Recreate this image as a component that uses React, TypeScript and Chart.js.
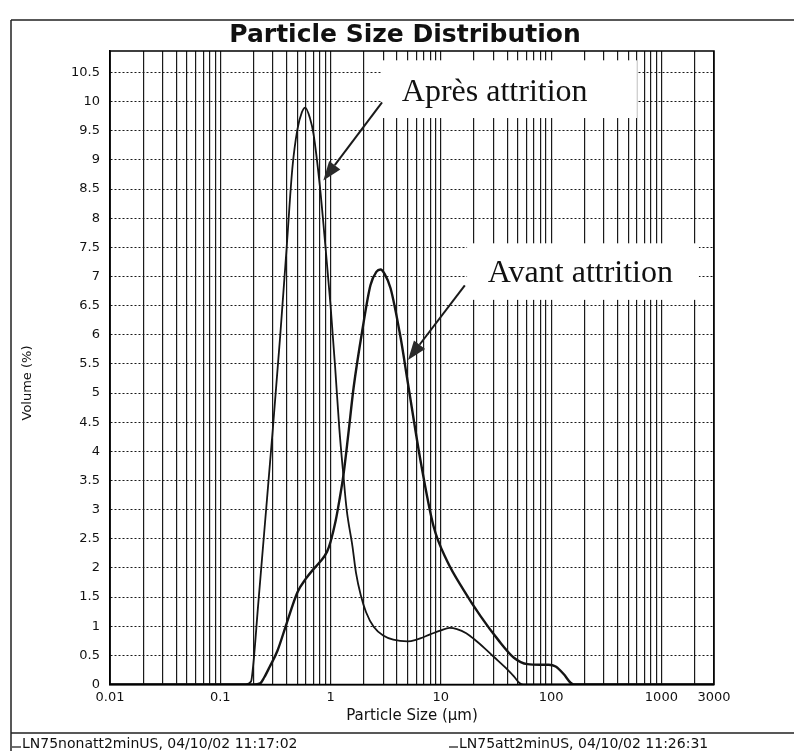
import React, { useEffect, useRef } from 'react';
import { Chart, registerables } from 'chart.js';

Chart.register(...registerables);

// ---------- text ----------
const chartTitle = 'Particle Size Distribution';
const xAxisTitle = 'Particle Size (µm)';
const yAxisTitle = 'Volume (%)';
const legendNames = ['LN75nonatt2minUS, 04/10/02 11:17:02', 'LN75att2minUS, 04/10/02 11:26:31'];

// ---------- axis ticks ----------
const xGridValues = [
  0.01, 0.02, 0.03, 0.04, 0.05, 0.06, 0.07, 0.08, 0.09,
  0.1, 0.2, 0.3, 0.4, 0.5, 0.6, 0.7, 0.8, 0.9,
  1, 2, 3, 4, 5, 6, 7, 8, 9,
  10, 20, 30, 40, 50, 60, 70, 80, 90,
  100, 200, 300, 400, 500, 600, 700, 800, 900,
  1000, 2000, 3000,
];
const xLabelledValues = [0.01, 0.1, 1, 10, 100, 1000, 3000];
const yStep = 0.5;

// ---------- series: Avant attrition (LN75nonatt2minUS) ----------
const avantSizes = [0.01, 0.2, 0.23, 0.25, 0.28, 0.33, 0.4, 0.5, 0.6, 0.7, 0.8, 0.93, 1.0, 1.11, 1.2, 1.31, 1.45, 1.62, 1.95, 2.3, 2.6, 2.84, 3.1, 3.5, 4.3, 5.0, 6.6, 8.6, 11.4, 16, 23, 33, 46, 61, 80, 95, 110, 130, 150, 160, 3000];
const avantVolume = [0, 0, 0.02, 0.12, 0.3, 0.58, 1.05, 1.58, 1.82, 1.98, 2.1, 2.28, 2.45, 2.8, 3.15, 3.6, 4.3, 5.1, 6.1, 6.85, 7.08, 7.12, 7.04, 6.8, 5.97, 5.2, 3.8, 2.71, 2.12, 1.63, 1.17, 0.77, 0.46, 0.35, 0.34, 0.34, 0.31, 0.18, 0.03, 0, 0];

// ---------- series: Après attrition (LN75att2minUS) ----------
const apresSizes = [0.01, 0.17, 0.19, 0.2, 0.22, 0.25, 0.3, 0.35, 0.4, 0.45, 0.5, 0.55, 0.59, 0.65, 0.7, 0.8, 0.9, 1.0, 1.1, 1.2, 1.31, 1.4, 1.58, 1.7, 1.88, 2.1, 2.46, 3, 3.7, 5, 6, 8, 10, 12, 14, 17, 20, 25, 30, 40, 46, 52, 56, 3000];
const apresVolume = [0, 0, 0.05, 0.38, 1.34, 2.6, 4.4, 6.0, 7.5, 8.85, 9.52, 9.82, 9.9, 9.72, 9.45, 8.55, 7.5, 6.5, 5.45, 4.4, 3.57, 3.0, 2.37, 1.92, 1.53, 1.24, 0.99, 0.84, 0.77, 0.74, 0.77, 0.86, 0.93, 0.97, 0.95, 0.88, 0.78, 0.62, 0.48, 0.26, 0.14, 0.02, 0, 0];

// ---------- annotations (data coordinates) ----------
const annotations = [
  { text: 'Après attrition', x0: 2.93, x1: 600, yTop: 10.71, yBottom: 9.72, textX: 4.43, textY: 10.01, from: [2.93, 9.99], to: [0.86, 8.65] },
  { text: 'Avant attrition', x0: 17.3, x1: 2188, yTop: 7.57, yBottom: 6.6, textX: 26.7, textY: 6.9, from: [16.5, 6.85], to: [5.04, 5.57] },
];

const SANS = '"DejaVu Sans", "Liberation Sans", sans-serif';
const SERIF = '"Liberation Serif", "Times New Roman", serif';

const scanPlugin = {
  id: 'scanPlugin',
  beforeDraw(chart: any) {
    const { ctx, width, height } = chart;
    ctx.save();
    ctx.fillStyle = '#ffffff';
    ctx.fillRect(0, 0, width, height);
    ctx.restore();
  },
  afterDatasetsDraw(chart: any) {
    const { ctx, chartArea: a, scales } = chart;
    const xs = scales.x;
    const ys = scales.y;
    ctx.save();
    for (const an of annotations) {
      const l = xs.getPixelForValue(an.x0);
      const r = xs.getPixelForValue(an.x1);
      const t = ys.getPixelForValue(an.yTop);
      const b = ys.getPixelForValue(an.yBottom);
      ctx.fillStyle = '#ffffff';
      ctx.fillRect(l, t, r - l, b - t);
      ctx.fillStyle = '#111111';
      ctx.font = '32px ' + SERIF;
      ctx.textAlign = 'left';
      ctx.textBaseline = 'alphabetic';
      ctx.fillText(an.text, xs.getPixelForValue(an.textX), ys.getPixelForValue(an.textY));

      const x1 = xs.getPixelForValue(an.from[0]);
      const y1 = ys.getPixelForValue(an.from[1]);
      const x2 = xs.getPixelForValue(an.to[0]);
      const y2 = ys.getPixelForValue(an.to[1]);
      const ang = Math.atan2(y2 - y1, x2 - x1);
      const headLen = 19;
      const headHalf = 7;
      const bx = x2 - headLen * Math.cos(ang);
      const by = y2 - headLen * Math.sin(ang);
      ctx.strokeStyle = '#1a1a1a';
      ctx.lineWidth = 2;
      ctx.beginPath();
      ctx.moveTo(x1, y1);
      ctx.lineTo(bx, by);
      ctx.stroke();
      ctx.beginPath();
      ctx.moveTo(x2, y2);
      ctx.lineTo(bx + headHalf * Math.sin(ang), by - headHalf * Math.cos(ang));
      ctx.lineTo(bx - headHalf * Math.sin(ang), by + headHalf * Math.cos(ang));
      ctx.closePath();
      ctx.fillStyle = '#2a2a2a';
      ctx.fill();
    }
    ctx.strokeStyle = '#000000';
    ctx.lineWidth = 1.5;
    ctx.strokeRect(a.left, a.top, a.right - a.left, a.bottom - a.top);
    ctx.restore();
  },
  afterDraw(chart: any) {
    const { ctx, chartArea: a, width, height } = chart;
    ctx.save();
    // outer frame of the printout
    ctx.strokeStyle = '#222222';
    ctx.lineWidth = 1.5;
    ctx.beginPath();
    ctx.moveTo(11, 20);
    ctx.lineTo(width, 20);
    ctx.moveTo(11, 20);
    ctx.lineTo(11, height);
    ctx.moveTo(11, 733);
    ctx.lineTo(width, 733);
    ctx.stroke();

    // title
    ctx.fillStyle = '#111111';
    ctx.textAlign = 'center';
    ctx.textBaseline = 'alphabetic';
    ctx.font = 'bold 25px ' + SANS;
    ctx.fillText(chartTitle, 405, 42);

    // x axis title
    ctx.font = '15px ' + SANS;
    ctx.fillText(xAxisTitle, (a.left + a.right) / 2, 720);

    // y axis title
    ctx.save();
    ctx.translate(28, 383);
    ctx.rotate(-Math.PI / 2);
    ctx.font = '13px ' + SANS;
    ctx.textBaseline = 'middle';
    ctx.fillText(yAxisTitle, 0, 0);
    ctx.restore();

    // legend lines
    ctx.font = '14px ' + SANS;
    ctx.textAlign = 'left';
    const legendX = [12, 449];
    legendNames.forEach((name, i) => {
      ctx.strokeStyle = '#111111';
      ctx.lineWidth = 1.2;
      ctx.beginPath();
      ctx.moveTo(legendX[i], 747);
      ctx.lineTo(legendX[i] + 9, 747);
      ctx.stroke();
      ctx.fillText(name, legendX[i] + 10, 748);
    });
    ctx.restore();
  },
};

export default function App() {
  const canvasRef = useRef<HTMLCanvasElement | null>(null);

  useEffect(() => {
    const canvas = canvasRef.current;
    if (!canvas) return;
    const chart = new Chart(canvas, {
      type: 'line',
      data: {
        datasets: [
          {
            label: legendNames[0],
            data: avantSizes.map((x, i) => ({ x, y: avantVolume[i] })),
            borderColor: '#151515',
            borderWidth: 2.4,
            pointRadius: 0,
            fill: false,
            cubicInterpolationMode: 'monotone',
          },
          {
            label: legendNames[1],
            data: apresSizes.map((x, i) => ({ x, y: apresVolume[i] })),
            borderColor: '#151515',
            borderWidth: 1.8,
            pointRadius: 0,
            fill: false,
            cubicInterpolationMode: 'monotone',
          },
        ],
      },
      options: {
        responsive: false,
        devicePixelRatio: 1,
        animation: false,
        events: [],
        layout: { padding: { top: 51, right: 80, bottom: 0, left: 0 } },
        plugins: {
          legend: { display: false },
          title: { display: false },
          tooltip: { enabled: false },
        },
        scales: {
          x: {
            type: 'logarithmic',
            min: 0.01,
            max: 3000,
            afterBuildTicks: (scale: any) => {
              scale.ticks = xGridValues.map((v) => ({ value: v }));
            },
            afterFit: (scale: any) => {
              scale.height = 66.5;
            },
            ticks: {
              autoSkip: false,
              maxRotation: 0,
              minRotation: 0,
              padding: 5,
              color: '#111111',
              font: { family: SANS, size: 13 },
              callback: (v: any) => (xLabelledValues.includes(Number(v)) ? String(v) : ''),
            },
            grid: { color: '#1a1a1a', lineWidth: 1.2, drawTicks: false },
            border: { display: true, color: '#000000', width: 1.5 },
          },
          y: {
            type: 'linear',
            min: 0,
            max: 10.87,
            afterFit: (scale: any) => {
              scale.width = 110;
            },
            ticks: {
              stepSize: yStep,
              includeBounds: false,
              padding: 10,
              color: '#111111',
              font: { family: SANS, size: 13 },
              callback: (v: any) => String(Math.round(Number(v) * 10) / 10),
            },
            grid: { color: '#1a1a1a', lineWidth: 1, drawTicks: false },
            border: { display: true, color: '#000000', width: 1.5, dash: [2, 2] },
          },
        },
      },
      plugins: [scanPlugin],
    } as any);
    return () => chart.destroy();
  }, []);

  return (
    <div style={{ position: 'fixed', left: 0, top: 0, width: 794, height: 751, background: '#fff' }}>
      <canvas ref={canvasRef} width={794} height={751} style={{ display: 'block', width: 794, height: 751 }} />
    </div>
  );
}
